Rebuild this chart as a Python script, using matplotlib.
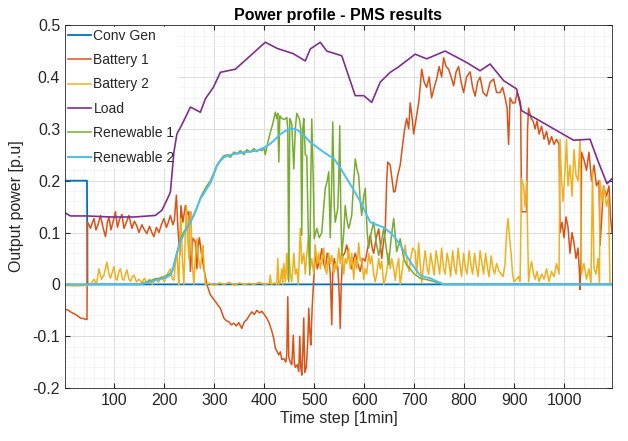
import matplotlib
matplotlib.use("Agg")
import matplotlib.pyplot as plt
from matplotlib.ticker import MultipleLocator

plt.rcParams['font.family'] = ['Liberation Sans', 'DejaVu Sans']

# values (time step, p.u.)
conv_t = [1, 45, 46, 1096]
conv_v = [0.2, 0.2, 0.0, 0.0]

bat1_t = [1, 8, 12, 18, 22, 28, 32, 38, 45,
          46, 49, 52, 56, 59, 63, 67, 72, 77, 82, 86, 89, 93, 97, 102, 106, 110, 115, 119, 124, 129,
          135, 140, 145, 149, 155, 160, 165, 170, 175, 179, 184, 189, 194, 199, 204, 208, 212, 217,
          220, 224, 227, 231, 233, 237, 242, 246, 249, 252, 255, 257, 262, 265, 267, 270, 274, 279,
          282, 285, 292, 302, 307, 312, 319, 324, 329, 334, 339, 344, 349, 355, 360, 365, 370, 375,
          380, 385, 390, 395, 400, 405, 410, 415, 419, 422, 426, 429, 432, 435, 439, 443, 445, 447,
          449, 452, 455, 458, 460, 462, 466, 469, 471, 473, 475, 477, 479, 481, 484, 487, 489, 491,
          493, 496, 499, 502, 506, 509, 512, 515, 519, 522, 526, 529, 532, 535, 537, 540, 544, 547,
          550, 552, 554, 557, 561, 565, 570, 575, 579, 582, 587, 592, 597, 602, 607, 612, 616, 619,
          624, 629, 632, 635, 639, 642, 645, 647, 652, 656, 659, 662, 667, 672, 677, 681, 685, 689,
          692, 696, 699, 704, 709, 712, 715, 720, 725, 730, 735, 740, 745, 750, 755, 759, 764, 769,
          774, 779, 784, 789, 794, 799, 805, 812, 817, 822, 827, 832, 838, 845, 852, 859, 865, 872,
          877, 882, 886, 889, 892, 897, 902, 906, 910, 913, 915, 925, 927, 929, 934, 938, 942, 946,
          950, 955, 960, 965, 970, 975, 980, 985, 990, 992, 996, 1000, 1004, 1008, 1012, 1016, 1020,
          1024, 1028, 1031, 1032, 1034, 1035, 1040, 1045, 1050, 1055, 1060, 1065, 1070, 1072, 1075,
          1079, 1085, 1090, 1093, 1096]
bat1_v = [-0.048, -0.05, -0.053, -0.056, -0.058, -0.062, -0.065, -0.066, -0.068,
          0.12, 0.115, 0.108, 0.12, 0.127, 0.105, 0.115, 0.133, 0.11, 0.092, 0.12, 0.13, 0.105, 0.12,
          0.14, 0.11, 0.125, 0.135, 0.108, 0.12, 0.133,
          0.108, 0.122, 0.112, 0.1, 0.115, 0.105, 0.098, 0.112, 0.1, 0.092, 0.11, 0.1, 0.115, 0.127,
          0.11, 0.12, 0.133, 0.115,
          0.125, 0.172, 0.108, 0.057, 0.152, 0.12, 0.152, 0.135, 0.14, 0.025, 0.06, 0.089, 0.082,
          0.03, 0.07, 0.09, 0.06, 0.03,
          0.015, 0.0, -0.02, -0.033, -0.04, -0.046, -0.065, -0.07, -0.072, -0.078, -0.075, -0.08,
          -0.074, -0.085, -0.072, -0.068, -0.06, -0.053,
          -0.058, -0.05, -0.055, -0.052, -0.058, -0.065, -0.075, -0.09, -0.105, -0.123, -0.13, -0.136,
          -0.13, -0.145, -0.143, -0.15, -0.135, -0.024,
          -0.14, -0.15, -0.155, -0.098, -0.15, -0.16, -0.155, -0.168, -0.1, -0.16, -0.175, -0.13,
          -0.065, -0.17, -0.16, -0.11, -0.046, -0.09,
          -0.117, -0.04, 0.011, 0.063, 0.03, 0.04, 0.05, 0.069, 0.04, 0.03, 0.06, 0.05, 0.02, -0.078,
          0.02, 0.05, 0.03, 0.035,
          -0.02, -0.085, 0.0, 0.055, 0.06, 0.076, 0.05, 0.03, 0.05, 0.06, 0.04, 0.025, 0.05, 0.045,
          0.07, 0.095, 0.07, 0.06,
          0.09, 0.107, 0.08, 0.05, 0.085, 0.1, 0.2, 0.236, 0.23, 0.2, 0.178, 0.18, 0.21, 0.23, 0.27,
          0.3, 0.32, 0.3,
          0.35, 0.32, 0.29, 0.32, 0.35, 0.38, 0.415, 0.39, 0.38, 0.4, 0.36, 0.38, 0.396, 0.42, 0.4,
          0.437, 0.42, 0.415,
          0.4, 0.383, 0.41, 0.42, 0.39, 0.37, 0.4, 0.41, 0.38, 0.363, 0.39, 0.4, 0.37, 0.363, 0.39,
          0.396, 0.37, 0.37,
          0.38, 0.36, 0.34, 0.27, 0.36, 0.35, 0.35, 0.37, 0.36, 0.35, 0.14, 0.14, 0.3, 0.34, 0.32,
          0.315, 0.3, 0.315,
          0.29, 0.305, 0.28, 0.295, 0.27, 0.285, 0.27, 0.28, 0.27, 0.1, 0.12, 0.09, 0.13, 0.11, 0.06,
          0.1, 0.08,
          0.05, 0.07, 0.02, -0.01, 0.05, 0.255, 0.24, 0.22, 0.255, 0.2, 0.23, 0.19, 0.2, 0.075, 0.12,
          0.19, 0.17, 0.19, 0.13, 0.1]

bat2_t = [1, 20, 45, 52, 59, 64, 69, 74, 79, 85, 89, 92, 96, 99, 103, 105, 109, 112, 116, 119,
          122, 125, 129, 132, 136, 139, 144, 149, 155, 160, 165, 170, 176, 182, 188, 194, 200, 206,
          212, 216, 219, 222, 225, 228, 229, 231, 233, 236, 239, 242, 244, 247, 249, 251, 253, 256,
          259, 262, 265, 268, 272, 275, 277, 280, 282, 290, 300, 310, 320, 330, 340, 350, 360, 370,
          380, 390, 400, 410, 412, 414, 420, 425, 427, 429, 432, 435, 437, 439, 442, 445, 447, 449,
          452, 455, 459, 462, 465, 468, 472, 475, 479, 482, 486, 489, 492, 495, 499, 502, 506, 509,
          512, 516, 519, 522, 525, 529, 532, 535, 539, 542, 545, 549, 552, 555, 559, 562, 565, 569,
          572, 575, 579, 582, 585, 589, 592, 595, 599, 602, 605, 609, 612, 615, 619, 622, 625, 629,
          632, 635, 639, 642, 645, 649, 652, 655, 659, 662, 665, 669, 672, 675, 679, 682, 686, 690,
          693, 697, 702, 705, 709, 712, 715, 719, 722, 726, 729, 733, 737, 740, 744, 748, 751, 755,
          759, 762, 766, 770, 773, 777, 781, 784, 788, 792, 795, 799, 803, 806, 810, 814, 817, 821,
          825, 828, 832, 836, 839, 843, 847, 850, 854, 858, 861, 865, 870, 874, 878, 882, 885, 888,
          891, 894, 897, 900, 905, 909, 912, 915, 919, 922, 925, 929, 932, 935, 939, 942, 946, 950,
          955, 960, 965, 970, 975, 980, 985, 990, 992, 995, 998, 1002, 1005, 1008, 1012, 1016, 1020,
          1024, 1028, 1032, 1035, 1040, 1045, 1050, 1054, 1057, 1060, 1064, 1068, 1071, 1072, 1076,
          1080, 1085, 1089, 1092, 1096]
bat2_v = [-0.002, -0.003, -0.002, 0.0, 0.01, 0.0, 0.03, 0.01, 0.018, 0.043, 0.02, 0.012, 0.025,
          0.034, 0.01, 0.008, 0.025, 0.03, 0.01, 0.008,
          0.02, 0.028, 0.01, 0.006, 0.015, 0.018, 0.005, 0.01, 0.003, 0.012, 0.002, 0.01, 0.0, 0.012,
          0.004, 0.015, 0.005, 0.02,
          0.03, 0.01, 0.008, 0.04, 0.063, 0.01, 0.0, 0.08, 0.127, 0.05, 0.0, 0.1, 0.152, 0.08, 0.05,
          0.12, 0.14, 0.04,
          0.0, 0.05, 0.088, 0.05, 0.03, 0.06, 0.075, 0.03, 0.0, 0.002, -0.002, 0.003, 0.0, 0.004,
          -0.002, 0.003, 0.0, 0.002,
          0.0, 0.004, 0.0, 0.002, 0.018, 0.0, 0.003, 0.0, 0.05, 0.0, 0.005, 0.03, 0.0, 0.04, 0.005,
          0.06, 0.01, 0.069,
          0.02, 0.005, 0.06, 0.02, 0.03, 0.0, 0.108, 0.04, 0.06, 0.02, 0.07, 0.095, 0.03, 0.05, 0.02,
          0.076, 0.04, 0.06,
          0.03, 0.05, 0.07, 0.03, 0.02, 0.06, 0.04, 0.056, 0.02, 0.04, 0.03, 0.07, 0.04, 0.065, 0.02,
          0.05, 0.04, 0.07,
          0.03, 0.06, 0.01, 0.05, 0.03, 0.08, 0.045, 0.05, 0.01, 0.03, 0.02, 0.06, 0.04, 0.055, 0.02,
          0.005, 0.02, 0.05,
          0.03, 0.045, 0.0, 0.01, 0.025, 0.06, 0.03, 0.05, 0.03, 0.008, 0.03, 0.05, 0.0, 0.02, 0.05,
          0.076, 0.04, 0.025,
          0.05, 0.07, 0.063, 0.02, 0.08, 0.04, 0.003, 0.04, 0.065, 0.03, 0.02, 0.06, 0.035, 0.018,
          0.065, 0.04, 0.02, 0.07,
          0.03, 0.02, 0.06, 0.04, 0.015, 0.065, 0.03, 0.02, 0.07, 0.035, 0.015, 0.06, 0.03, 0.02,
          0.065, 0.035, 0.02, 0.06,
          0.03, 0.015, 0.065, 0.04, 0.02, 0.06, 0.03, 0.015, 0.055, 0.03, 0.02, 0.04, 0.025, 0.02,
          0.015, 0.04, 0.1, 0.127,
          0.09, 0.06, 0.02, 0.005, 0.01, 0.015, 0.005, 0.204, 0.19, 0.15, 0.2, 0.005, 0.03, 0.044,
          0.02, 0.01, 0.025, 0.005,
          0.02, 0.01, 0.03, 0.005, 0.025, 0.015, 0.04, 0.02, 0.28, 0.2, 0.16, 0.22, 0.28, 0.19, 0.23,
          0.17, 0.26,
          0.21, 0.2, 0.28, 0.02, 0.04, 0.01, 0.03, 0.0, 0.22, 0.03, 0.02, 0.05, 0.0, 0.2, 0.16,
          0.19, 0.15, 0.17, 0.0, 0.0]

load_t = [1, 12, 45, 92, 140, 182, 195, 206, 212, 219, 225, 236, 252, 272, 282, 298, 312, 342,
          372, 402, 426, 458, 482, 492, 512, 525, 555, 582, 599, 615, 632, 652, 668, 702, 725, 762,
          805, 832, 852, 879, 905, 915, 945, 1019, 1052, 1068, 1086, 1096]
load_v = [0.138, 0.132, 0.132, 0.13, 0.13, 0.133, 0.143, 0.165, 0.178, 0.255, 0.29, 0.31, 0.342,
          0.332, 0.358, 0.38, 0.409, 0.415, 0.441, 0.467, 0.455, 0.445, 0.431, 0.454, 0.467, 0.45,
          0.441, 0.364, 0.364, 0.351, 0.39, 0.409, 0.419, 0.444, 0.435, 0.45, 0.428, 0.412, 0.425,
          0.393, 0.377, 0.335, 0.319, 0.278, 0.28, 0.238, 0.194, 0.204]

ren1_t = [1, 150, 155, 165, 180, 195, 210, 216, 222, 230, 238, 245, 252, 259, 266, 272, 279, 285,
          292, 299, 305, 312, 319, 326, 332, 339, 346, 352, 359, 365, 372, 379, 385, 390, 395, 400,
          402, 406, 412, 417, 422, 425, 427, 429, 431, 435, 440, 445, 447, 449, 451, 455, 459, 462,
          465, 470, 473, 475, 477, 479, 482, 485, 488, 491, 493, 495, 498, 500, 505, 510, 515, 519,
          522, 526, 529, 532, 535, 537, 540, 542, 547, 549, 551, 553, 555, 559, 562, 566, 569, 572,
          575, 579, 582, 586, 589, 592, 595, 599, 602, 606, 609, 614, 619, 624, 629, 634, 639, 644,
          649, 654, 659, 665, 672, 679, 685, 692, 700, 712, 730, 760, 1096]
ren1_v = [0.0, 0.0, 0.002, 0.005, 0.01, 0.013, 0.02, 0.025, 0.05, 0.08, 0.1, 0.11, 0.12, 0.135,
          0.15, 0.167, 0.18, 0.19,
          0.2, 0.215, 0.23, 0.24, 0.248, 0.25, 0.245, 0.255, 0.252, 0.258, 0.25, 0.26, 0.255, 0.262,
          0.256, 0.26, 0.258, 0.262,
          0.25, 0.27, 0.293, 0.31, 0.332, 0.32, 0.33, 0.236, 0.325, 0.32, 0.318, 0.322, 0.3, 0.005,
          0.32, 0.31, 0.223, 0.3,
          0.33, 0.32, 0.3, 0.095, 0.3, 0.32, 0.25, 0.248, 0.1, 0.018, 0.2, 0.319, 0.2, 0.088, 0.108,
          0.09, 0.1, 0.15,
          0.185, 0.2, 0.217, 0.09, 0.2, 0.313, 0.15, 0.12, 0.146, 0.2, 0.306, 0.15, 0.056, 0.1, 0.152,
          0.12, 0.108, 0.12,
          0.133, 0.2, 0.242, 0.22, 0.21, 0.16, 0.133, 0.17, 0.185, 0.1, 0.07, 0.1, 0.12, 0.08, 0.056,
          0.08, 0.108, 0.07,
          0.038, 0.09, 0.127, 0.063, 0.088, 0.05, 0.037, 0.03, 0.02, 0.012, 0.008, 0.0, 0.0]

ren2_t = [1, 150, 160, 175, 192, 205, 212, 217, 222, 227, 232, 238, 245, 252, 259, 266, 272, 279,
          285, 292, 299, 305, 312, 319, 332, 345, 359, 372, 385, 395, 402, 410, 419, 430, 442, 452,
          459, 466, 472, 482, 492, 505, 519, 530, 539, 552, 565, 579, 592, 602, 612, 625, 639, 652,
          662, 672, 682, 692, 702, 712, 722, 732, 745, 759, 1096]
ren2_v = [0.0, 0.0, 0.002, 0.006, 0.01, 0.014, 0.018, 0.03, 0.05, 0.066, 0.082, 0.095, 0.108,
          0.12, 0.133, 0.15, 0.165, 0.175,
          0.185, 0.195, 0.212, 0.228, 0.238, 0.245, 0.25, 0.252, 0.255, 0.256, 0.258, 0.262, 0.265,
          0.27, 0.277, 0.288, 0.296, 0.3,
          0.3, 0.298, 0.293, 0.285, 0.274, 0.265, 0.255, 0.248, 0.243, 0.225, 0.204, 0.182, 0.16,
          0.14, 0.12, 0.115, 0.11, 0.1,
          0.09, 0.076, 0.06, 0.044, 0.03, 0.018, 0.014, 0.012, 0.006, 0.0, 0.0]

fig, ax = plt.subplots(figsize=(6.28, 4.41), dpi=100)
fig.subplots_adjust(left=0.1035, right=0.9745, top=0.943, bottom=0.12)

ax.plot(conv_t, conv_v, color='#0072BD', lw=1.3, label='Conv Gen')
ax.plot(bat1_t, bat1_v, color='#D95319', lw=1.1, label='Battery 1')
ax.plot(bat2_t, bat2_v, color='#EDB120', lw=1.1, label='Battery 2')
ax.plot(load_t, load_v, color='#7E2F8E', lw=1.2, label='Load')
ax.plot(ren1_t, ren1_v, color='#77AC30', lw=1.1, label='Renewable 1')
ax.plot(ren2_t, ren2_v, color='#4DBEEE', lw=1.4, label='Renewable 2')

ax.set_xlim(1, 1096)
ax.set_ylim(-0.2, 0.5)
ax.xaxis.set_major_locator(MultipleLocator(100))
ax.xaxis.set_minor_locator(MultipleLocator(20))
ax.yaxis.set_major_locator(MultipleLocator(0.1))
ax.yaxis.set_minor_locator(MultipleLocator(0.02))
ax.set_yticks([-0.2, -0.1, 0, 0.1, 0.2, 0.3, 0.4, 0.5])
ax.set_yticklabels(['-0.2', '-0.1', '0', '0.1', '0.2', '0.3', '0.4', '0.5'])
ax.grid(True, which='major', color='#dcdcdc', lw=0.7)
ax.grid(True, which='minor', color='#f2f2f2', lw=0.5)
ax.set_axisbelow(True)
ax.tick_params(which='both', direction='in', top=True, right=True, colors='#262626',
               labelsize=11.5)
ax.tick_params(which='minor', length=0)
for s in ax.spines.values():
    s.set_color('#262626')
    s.set_linewidth(0.6)

ax.set_title('Power profile - PMS results', fontsize=11.5, fontweight='bold', pad=4)
ax.set_xlabel('Time step [1min]', fontsize=11.5, color='#262626', labelpad=2)
ax.set_ylabel('Output power [p.u]', fontsize=11.5, color='#262626', labelpad=6)

leg = ax.legend(loc='upper left', fontsize=10, handlelength=1.6, handletextpad=0.2,
                labelspacing=0.75, borderaxespad=0.1, borderpad=0.15, frameon=True,
                fancybox=False, framealpha=1, edgecolor='white')
leg.set_zorder(1.5)  # let the load curve pass over the legend box edge
for t in leg.get_texts():
    t.set_color('#262626')

fig.savefig('out.png', dpi=100)
